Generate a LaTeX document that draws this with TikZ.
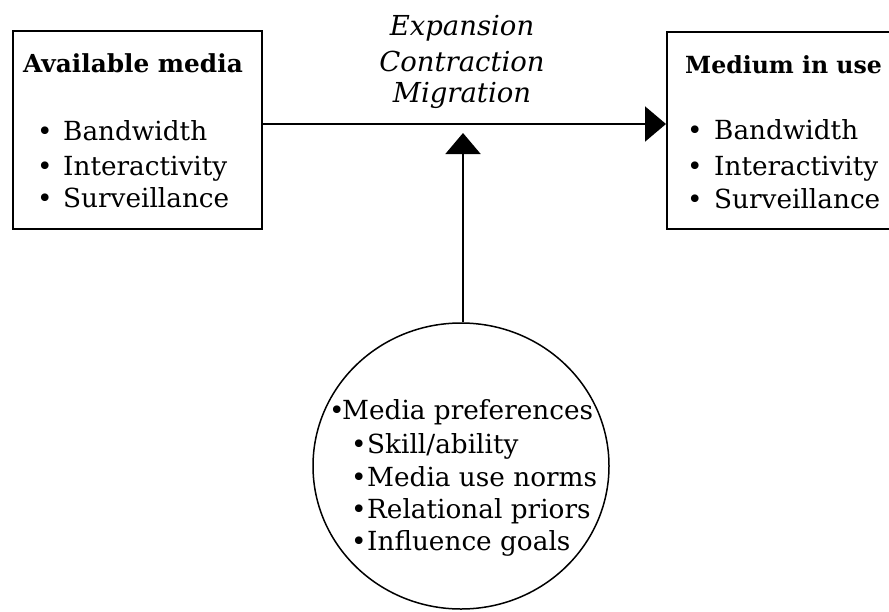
\documentclass[tikz,border=0pt]{standalone}
\usepackage{fontspec}
\setmainfont{DejaVu Serif}
\usetikzlibrary{arrows.meta,shapes.geometric}

\tikzset{
  box/.style={draw, line width=2pt, rectangle, inner sep=0pt},
  txt/.style={anchor=base west, inner sep=0pt, font=\fontsize{26.3}{32}\selectfont},
  head/.style={txt, font=\fontsize{24.8}{30}\selectfont\bfseries},
  flow/.style={anchor=base, inner sep=0pt, font=\fontsize{27.5}{32}\selectfont\itshape},
  link/.style={line width=2pt, -{Triangle[length=21pt, width=35pt]}},
}
\newcommand{\bul}[1]{\makebox[#1][l]{\textbullet}}

\begin{document}
\begin{tikzpicture}[x=1pt, y=-1pt]
  \useasboundingbox (0,0) rectangle (889,611);
  \clip (0,0) rectangle (889,611);

  % left box: available media
  \node[box, minimum width=249pt, minimum height=198pt] (avail) at (137.5,130) {};
  \node[head] (availT) at (23,72) {Available media};
  \node[txt] (a1) at (37,140) {\bul{26pt}Bandwidth};
  \node[txt] (a2) at (37,175) {\bul{26pt}Interactivity};
  \node[txt] (a3) at (37,207) {\bul{26pt}Surveillance};

  % right box: medium in use (runs off the right edge)
  \node[box, minimum width=240pt, minimum height=197pt] (use) at (787,130.5) {};
  \node[head, font=\fontsize{23.6}{30}\selectfont\bfseries] (useT) at (685,73) {Medium in use};
  \node[txt] (u1) at (687,139) {\bul{27pt}Bandwidth};
  \node[txt] (u2) at (687,175) {\bul{27pt}Interactivity};
  \node[txt] (u3) at (687,208) {\bul{27pt}Surveillance};

  % modes of change above the main arrow
  \node[flow] (exp) at (462,35) {Expansion};
  \node[flow] (con) at (462,71) {Contraction};
  \node[flow] (mig) at (462,102) {Migration};

  % influences circle
  \node[draw, ellipse, line width=1.5pt, minimum width=296pt, minimum height=286pt, inner sep=0pt] (pref) at (461,466) {};
  \node[txt] (p0) at (329,419) {\bul{13pt}Media preferences};
  \node[txt] (p1) at (351,453) {\bul{16pt}Skill/ability};
  \node[txt] (p2) at (351,486) {\bul{16pt}Media use norms};
  \node[txt] (p3) at (351,518) {\bul{16pt}Relational priors};
  \node[txt] (p4) at (351,550) {\bul{16pt}Influence goals};

  % connectors
  \coordinate (tip) at (463,133);
  \draw[link] (avail.east |- 0,124) -- (use.west |- 0,124);
  \draw[link] (pref.north -| tip) -- (tip);
\end{tikzpicture}
\end{document}
